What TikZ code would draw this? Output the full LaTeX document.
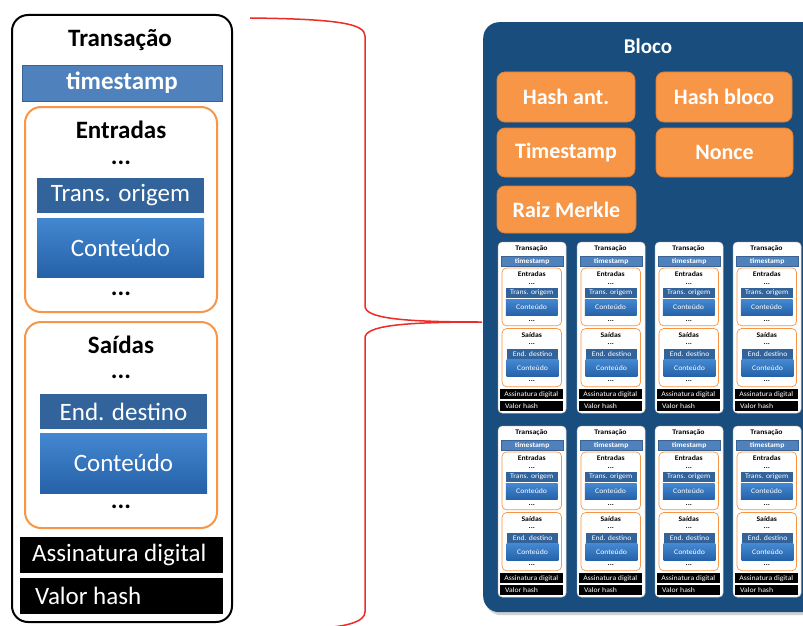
\documentclass[tikz,border=0pt]{standalone}
\usepackage{fontspec}
\setmainfont{Carlito}
\usetikzlibrary{shadows}
\definecolor{tsblue}{HTML}{4F81BD}
\definecolor{tsborder}{HTML}{3A6393}
\definecolor{darkblue}{HTML}{33639B}
\definecolor{conttop}{HTML}{4388D1}
\definecolor{contbot}{HTML}{2561A8}
\definecolor{orangeF}{HTML}{F79646}
\definecolor{orangeD}{HTML}{E07F35}
\definecolor{panelblue}{HTML}{184D7E}
\definecolor{bracered}{HTML}{EE2B24}
\tikzset{
  cardbox/.style={fill=white,minimum width=220pt,minimum height=607pt,inner sep=0pt},
  cardtitle/.style={font=\fontsize{25}{25}\selectfont\bfseries,text=black,inner sep=0pt},
  tsbar/.style={fill=tsblue,draw=tsborder,line width=0.8pt,minimum width=200pt,minimum height=36pt,inner sep=0pt,text=white,font=\fontsize{25}{25}\selectfont\bfseries},
  grp/.style={draw=orangeF,minimum width=192pt,inner sep=0pt},
  grplabel/.style={font=\fontsize{25}{25}\selectfont\bfseries,inner sep=0pt},
  dotsnode/.style={font=\fontsize{25}{25}\selectfont\bfseries,inner sep=0pt},
  darkbar/.style={fill=darkblue,minimum width=167pt,minimum height=35pt,inner sep=0pt,text=white,font=\fontsize{25}{25}\selectfont},
  contbox/.style={top color=conttop,bottom color=contbot,minimum width=167pt,inner sep=0pt,text=white,font=\fontsize{25}{25}\selectfont},
  blackbar/.style={fill=black,minimum width=203pt,minimum height=36pt,inner sep=0pt},
  bartext/.style={anchor=west,inner sep=0pt,text=white,font=\fontsize{25}{25}\selectfont},
  blockbox/.style={fill=orangeF,draw=orangeD,line width=0.8pt,rounded corners=8pt,inner sep=0pt,text=white,font=\fontsize{22}{22}\selectfont\bfseries},
}
% #1 prefix, #2 x, #3 y, #4 xscale, #5 yscale, #6 outer style, #7 orange line width, #8 corner radius
\newcommand\txcard[8]{%
\begin{scope}[shift={(#2,#3)},xscale=#4,yscale=#5,transform shape]
\node[cardbox,#6,rounded corners=#8] (#1card) at (110,303.5) {};
\node[cardtitle] (#1title) at (108,25) {Transação};
\node[tsbar] (#1ts) at (110,68) {timestamp};
\node[grp,line width=#7,rounded corners=#8,minimum height=205pt] (#1in) at (109,194.5) {};
\node[grplabel] (#1inl) at (109,115) {Entradas};
\node[dotsnode] (#1ina) at (109,148) {...};
\node[darkbar] (#1src) at (108.5,180.5) {Trans. origem};
\node[contbox,minimum height=59pt] (#1inc) at (108.5,232.5) {Conteúdo};
\node[dotsnode] (#1inb) at (109,279) {...};
\node[grp,line width=#7,rounded corners=#8,minimum height=206pt] (#1out) at (109,410) {};
\node[grplabel] (#1outl) at (109,330) {Saídas};
\node[dotsnode] (#1outa) at (109,362) {...};
\node[darkbar] (#1dst) at (111.5,396.5) {End. destino};
\node[contbox,minimum height=60pt] (#1outc) at (111.5,448) {Conteúdo};
\node[dotsnode] (#1outb) at (109,492) {...};
\node[blackbar] (#1sig) at (109.5,540) {};
\node[bartext] (#1sigt) at (20,540) {Assinatura digital};
\node[blackbar] (#1hash) at (109.5,581) {};
\node[bartext] (#1hasht) at (23,581) {Valor hash};
\end{scope}}
\begin{document}
\begin{tikzpicture}[x=1pt,y=-1pt]
\useasboundingbox (0,0) rectangle (803,626);
\fill[white] (0,0) rectangle (803,626);
% left transaction
\txcard{L}{12}{15}{1}{1}{draw=black,line width=2pt}{2pt}{16pt}
% brace
\coordinate (bA) at (250,18);
\coordinate (bTip) at (482,322);
\coordinate (bB) at (318,628);
\draw[bracered,line width=1.5pt] (bA) .. controls (340,19) and (365,24) .. (365,36) -- (365,306)
  .. controls (365,318) and (400,322) .. (bTip)
  .. controls (400,322) and (365,326) .. (365,338) -- (365,612)
  .. controls (365,622) and (345,627) .. (bB);
% block panel
\node[fill=panelblue,rounded corners=16pt,minimum width=340pt,minimum height=590pt,inner sep=0pt,anchor=north west,
  drop shadow={opacity=0.35,shadow xshift=2pt,shadow yshift=-3pt}] (panel) at (483,22) {};
\node[text=white,font=\fontsize{21}{21}\selectfont\bfseries,inner sep=0pt] (bloco) at (648,46) {Bloco};
\node[blockbox,minimum width=138pt,minimum height=50pt] (hashant) at (566,97) {Hash ant.};
\node[blockbox,minimum width=136pt,minimum height=50pt] (hashbloco) at (724,97) {Hash bloco};
\node[blockbox,minimum width=138pt,minimum height=49pt] (tstamp) at (566,152.5) {Timestamp};
\node[blockbox,minimum width=137pt,minimum height=49pt] (nonce) at (724.5,152.5) {Nonce};
\node[blockbox,minimum width=139pt,minimum height=47pt] (merkle) at (566.5,209.5) {Raiz Merkle};
% small transactions
\foreach \c/\xx in {1/498,2/577,3/655,4/733}{
  \foreach \r/\yy in {1/242,2/426}{
    \txcard{S\c\r}{\xx}{\yy}{0.31}{0.282}{draw=gray!40,line width=0.5pt}{0.7pt}{4.5pt}
  }
}
\end{tikzpicture}
\end{document}
